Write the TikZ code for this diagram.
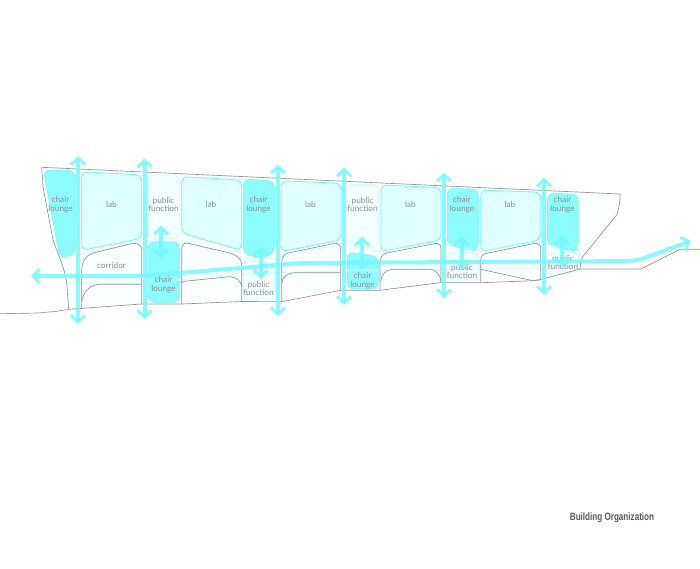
\documentclass[tikz,border=0pt]{standalone}
\usepackage{fontspec}
\setmainfont{Lato}
\newfontfamily\captionfont[FakeStretch=0.76]{Liberation Sans}
\usetikzlibrary{arrows.meta}
\definecolor{flowcyan}{RGB}{115,248,255}
\definecolor{loungecyan}{RGB}{140,252,255}
\definecolor{labcyan}{RGB}{224,255,255}
\definecolor{pubcyan}{RGB}{244,255,255}
\definecolor{shellcyan}{RGB}{250,255,255}
\definecolor{edgecyan}{RGB}{110,242,255}
\definecolor{paleedge}{RGB}{200,250,255}

\begin{document}
\begin{tikzpicture}[
  x=0.75pt, y=-0.75pt,
  wall/.style={draw=black!42, line width=0.5pt},
  shell/.style={fill=shellcyan, draw=none},
  lab/.style={draw=edgecyan, fill=labcyan, line width=0.6pt, rounded corners=4.5pt},
  lounge/.style={draw=edgecyan, fill=loungecyan, line width=0.4pt, rounded corners=5pt},
  pub/.style={draw=paleedge, fill=pubcyan, line width=0.5pt, rounded corners=5pt},
  hall/.style={draw=paleedge, line width=0.5pt},
  roomtext/.style={align=center, inner sep=0pt, text=black!44, font=\fontsize{6.2}{6.7}\selectfont},
  flow/.style={draw=flowcyan, opacity=0.85, line width=3pt, {Straight Barb[length=5pt,width=10.5pt,line width=2.2pt]}-{Straight Barb[length=5pt,width=10.5pt,line width=2.2pt]}}
]
\useasboundingbox (0,0) rectangle (700,568);

% shell of the building
\path[shell] (41.7,167.3) -- (620,194) -- (620,200) .. controls (619,206) and (618,212) .. (616.7,215)
  -- (582.7,256.7) -- (580,269) -- (68.7,309.3) -- (66.7,283) .. controls (64,265) and (58,255) .. (53,240) -- (43,186.7) -- cycle;

% rooms
\path[pub] (148.3,175) -- (179.3,175) -- (179.3,238.3) -- (148.3,238.3) -- cycle;
\path[pub] (243.3,260.7) -- (274.3,263) -- (274.3,300) -- (243.3,300) -- cycle;
\path[pub] (347.3,184.3) -- (378.3,184.3) -- (378.3,248.3) -- (347.3,243) -- cycle;
\path[pub] (447.3,251.7) -- (479.3,253) -- (479.3,281) -- (447.3,281) -- cycle;
\path[pub] (547.3,251.7) -- (578.3,253) -- (578.3,270) -- (560,275) -- (547.3,275) -- cycle;

\path[lab] (81.7,171.7) -- (141.7,175) -- (141.7,238.3) -- (81.7,250.5) -- cycle;
\path[lab] (181.7,176.7) -- (241.7,180) -- (241.7,250.5) -- (181.7,233) -- cycle;
\path[lab] (281,180.7) -- (341,183.3) -- (341,240) -- (281,251.7) -- cycle;
\path[lab] (381,185) -- (441,187.7) -- (441,240) -- (381,251.7) -- cycle;
\path[lab] (480.7,190) -- (540.7,192.3) -- (540.7,240) -- (480.7,251.7) -- cycle;

\path[lounge] (43.3,170) -- (75,170.3) -- (75,255) -- (60,258.5) -- cycle;
\path[lounge] (148.3,241.7) -- (179.3,241.7) -- (179.3,302.3) -- (148.3,302.3) -- cycle;
\path[lounge] (243.3,179) -- (274.3,181) -- (274.3,253) -- (262,258) -- (243.3,254) -- cycle;
\path[lounge] (347.3,251.7) -- (378.3,256.7) -- (378.3,289) -- (347.3,289) -- cycle;
\path[lounge] (447.3,188.3) -- (478.3,189.3) -- (478.3,250) -- (473,250.7) -- (447.3,245) -- cycle;
\path[lounge] (547.3,193.3) -- (578.3,194.3) -- (578.3,250) -- (573,250.7) -- (547.3,245) -- cycle;

% pale lines along the corridor
\draw[hall] (60,258) -- (148,241) -- (180,241) -- (243,258) -- (275,258) -- (341,244) -- (381,252) -- (441,241) -- (480,252) -- (541,241) -- (582,256);
\draw[hall] (66,283) -- (141,283) -- (260,273) -- (480,268) -- (580,268);

% walls and ground
\draw[wall] (41.7,167.3) -- (620,194) -- (620,200) .. controls (619,206) and (618,212) .. (616.7,215)
  -- (582.7,256.7) .. controls (581.5,258.5) and (581,260) .. (580.7,261.7) -- (580,269)
  -- (541.7,279.3) -- (533,280.7) -- (480.7,269.3);
\draw[wall] (41.7,167.3) -- (43,186.7) -- (53,240) .. controls (58,255) and (64,265) .. (66.7,283) -- (68.7,309.3);
\draw[wall] (0,313.7) -- (38,313) -- (56.7,311.3) -- (68.7,309.3) -- (141.7,304) -- (181.7,304) -- (241.7,301.5)
  -- (281.7,301.7) -- (340.7,290.3) -- (380,290.3) -- (440,282.7) -- (480.7,282.7) -- (533,280.7) -- (540,280);
\draw[wall] (580,269) -- (641,269) -- (680,249.3) -- (700,249.3);

\draw[wall] (81.7,309) -- (81.7,270) .. controls (81.7,262) and (86,255) .. (93,253) -- (133,243.3) .. controls (139,243) and (141.7,246) .. (141.7,250) -- (141.7,304);
\draw[wall] (81.7,301.7) .. controls (83,292) and (90,284.3) .. (100,284.3) -- (141.7,284.3);
\draw[wall] (181.7,304) -- (181.7,250) .. controls (181.7,246) and (183,243) .. (186.7,243) -- (230,253) .. controls (237,255) and (241.7,259) .. (241.7,265) -- (241.7,301.5);
\draw[wall] (181.7,283.3) .. controls (182,281.5) and (185,281) .. (190,280.7) -- (230,276.7) .. controls (236,277) and (241,281) .. (241.7,286.7);
\draw[wall] (281.7,301.7) -- (281.7,263) .. controls (281.7,258) and (284,254) .. (288,253) -- (335,243.3) .. controls (339,243) and (340.7,246) .. (340.7,250) -- (340.7,290.3);
\draw[wall] (281.7,283) .. controls (282,277) and (288,272.7) .. (295,272.7) -- (340.7,272.7);
\draw[wall] (380,290.3) -- (380,263) .. controls (380,258) and (382,254) .. (386.7,253) -- (436.7,243.3) .. controls (439.5,243.5) and (441,245) .. (441,248) -- (441,282.7);
\draw[wall] (380.7,281.7) .. controls (381,275) and (386,269.3) .. (393,269.3) -- (430,269.3) .. controls (436,269.5) and (440.5,275) .. (441,281.7);
\draw[wall] (480.7,282.7) -- (480.7,260) .. controls (480.7,256) and (483,254) .. (486.7,253.3) -- (535,243.3) .. controls (538.5,243.5) and (540.7,245) .. (540.7,248.3) -- (540.7,280);

% room names
\node[roomtext] (chairA) at (60.5,204.5) {chair\\lounge};
\node[roomtext] (labA) at (111.5,204) {lab};
\node[roomtext] (publicA) at (163.5,204.5) {public\\function};
\node[roomtext] (corridor) at (111.5,265.5) {corridor};
\node[roomtext] (chairB) at (163.5,284.5) {chair\\lounge};
\node[roomtext] (labB) at (211,204) {lab};
\node[roomtext] (chairC) at (258.5,204.5) {chair\\lounge};
\node[roomtext] (publicB) at (258.5,288.5) {public\\function};
\node[roomtext] (labC) at (310.5,204) {lab};
\node[roomtext] (publicC) at (362.5,204.5) {public\\function};
\node[roomtext] (chairD) at (362.5,280.5) {chair\\lounge};
\node[roomtext] (labD) at (410.5,204) {lab};
\node[roomtext] (chairE) at (462,204.5) {chair\\lounge};
\node[roomtext] (publicD) at (462,271.5) {public\\function};
\node[roomtext] (labE) at (510,204) {lab};
\node[roomtext] (chairF) at (562.5,204.5) {chair\\lounge};
\node[roomtext] (publicE) at (563,262.5) {public\\function};

% circulation
\foreach \i/\x/\ya/\yb in {1/78/156/324, 2/144.5/158.5/319, 3/278/164.5/316, 4/344/167.5/305, 5/444/172.5/298, 6/544/177.5/295,
  7/161/225.5/258, 8/261/246.5/279, 9/362/236.5/269, 10/461.5/236.5/269, 11/562/236/267}{
  \coordinate (up\i) at (\x,\ya);
  \coordinate (down\i) at (\x,\yb);
  \draw[flow] (up\i) -- (down\i);
}
\coordinate (west) at (31,276);
\coordinate (east) at (691,241);
\draw[flow, rounded corners=7pt] (west) -- (141,276) -- (260,266.5) -- (300,263) -- (636,261) -- (east);

\node[font=\captionfont\bfseries\fontsize{8}{9}\selectfont, text=black!65, inner sep=0pt] (title) at (612,517.5) {Building Organization};
\end{tikzpicture}
\end{document}
